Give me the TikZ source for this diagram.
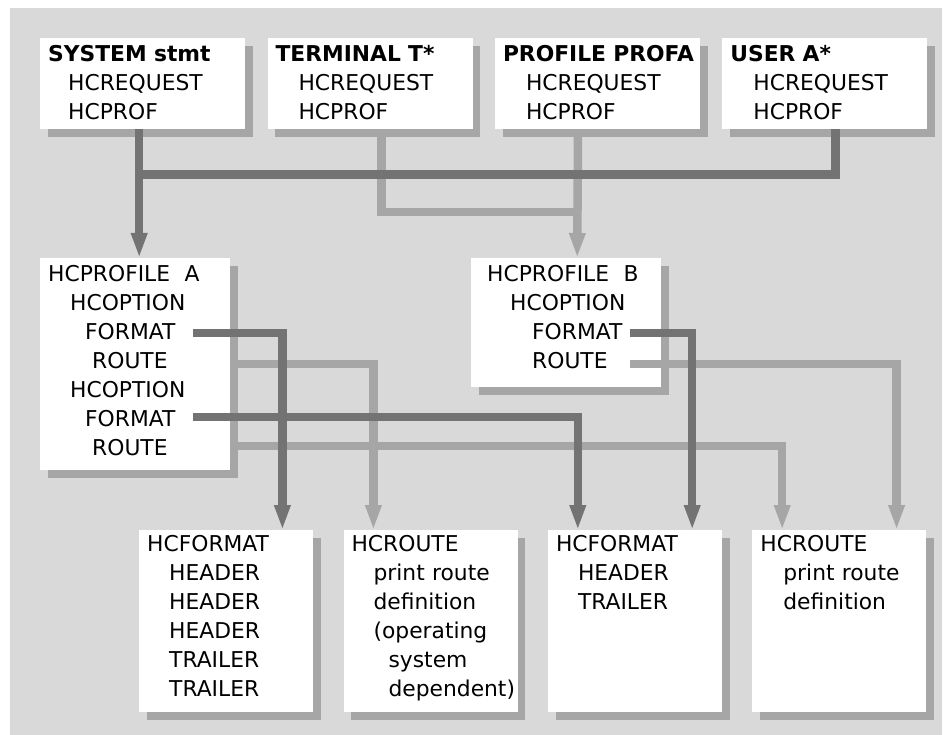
\documentclass[tikz,border=0pt]{standalone}
\usepackage{fontspec}
\setmainfont{DejaVu Sans}
\usetikzlibrary{arrows.meta,positioning,shadows}

\definecolor{panel}{HTML}{D9D9D9}
\definecolor{shade}{HTML}{A6A6A6}
\definecolor{dark}{HTML}{737373}
\newcommand\cardtext[1]{\begin{tabular}[t]{@{}l@{}}#1\end{tabular}}

\begin{document}
\begin{tikzpicture}[
  x=1pt, y=-1pt, >={Triangle[length=25pt,width=15pt]},
  every node/.style={font=\fontsize{21.8}{29}\selectfont},
  card/.style={fill=white, anchor=north west, align=left,
               inner xsep=8pt, inner ysep=0pt,
               general shadow={fill=shade, shadow xshift=7.5pt, shadow yshift=-7.5pt}},
  stmt/.style={card, text width=189pt, text height=23pt, text depth=68pt},
  prfl/.style={card, text width=174pt, text height=23pt, text depth=#1},
  defn/.style={card, text width=158pt, text height=21pt, text depth=161pt},
  dk/.style={draw=dark, line width=8.5pt},
  lt/.style={draw=shade, line width=8.5pt},
]
\useasboundingbox (0,0) rectangle (946,735);
\fill[panel] (10,8) rectangle (942,735);

\node[stmt] (sys) at (40,38)
  {\cardtext{\textbf{SYSTEM stmt}\\ \hspace*{20pt}HCREQUEST\\ \hspace*{20pt}HCPROF}};
\node[stmt, right=22pt of sys] (term)
  {\cardtext{\textbf{TERMINAL T*}\\ \hspace*{23pt}HCREQUEST\\ \hspace*{23pt}HCPROF}};
\node[stmt, right=22pt of term] (prof)
  {\cardtext{\textbf{PROFILE PROFA}\\ \hspace*{23pt}HCREQUEST\\ \hspace*{23pt}HCPROF}};
\node[stmt, right=22pt of prof] (user)
  {\cardtext{\textbf{USER A*}\\ \hspace*{23pt}HCREQUEST\\ \hspace*{23pt}HCPROF}};

\node[prfl=189pt] (profA) at (40,258)
  {\cardtext{HCPROFILE\ \ A\\ \hspace*{22pt}HCOPTION\\ \hspace*{37pt}FORMAT\\
   \hspace*{44pt}ROUTE\\ \hspace*{22pt}HCOPTION\\ \hspace*{37pt}FORMAT\\ \hspace*{44pt}ROUTE}};
\node[prfl=106pt] (profB) at (471,258)
  {\cardtext{\hspace*{8pt}HCPROFILE\ \ B\\ \hspace*{31pt}HCOPTION\\
   \hspace*{53pt}FORMAT\\ \hspace*{53pt}ROUTE}};

\node[defn] (fmt1) at (139,530)
  {\cardtext{HCFORMAT\\ \hspace*{22pt}HEADER\\ \hspace*{22pt}HEADER\\ \hspace*{22pt}HEADER\\
   \hspace*{22pt}TRAILER\\ \hspace*{22pt}TRAILER}};
\node[defn, right=30pt of fmt1] (rte1)
  {\cardtext{HCROUTE\\ \hspace*{22pt}print route\\ \hspace*{22pt}definition\\
   \hspace*{22pt}(operating\\ \hspace*{37pt}system\\ \hspace*{37pt}dependent)}};
\node[defn, right=30pt of rte1] (fmt2)
  {\cardtext{HCFORMAT\\ \hspace*{22pt}HEADER\\ \hspace*{22pt}TRAILER}};
\node[defn, right=30pt of fmt2] (rte2)
  {\cardtext{HCROUTE\\ \hspace*{23pt}print route\\ \hspace*{23pt}definition}};

\coordinate (fmtA1) at (193,333);
\coordinate (rteA1) at (230,364);
\coordinate (fmtA2) at (193,417);
\coordinate (rteA2) at (230,446);
\coordinate (fmtB) at (630,333);
\coordinate (rteB) at (630,364);

\draw[lt] ([xshift=11.5pt]term.south) |- ([xshift=11pt,yshift=46pt]profB.north);
\draw[lt,->] ([xshift=-19.5pt]prof.south) -- ([xshift=11pt]profB.north);
\draw[lt,->] (rteA1) -| ([xshift=30pt]rte1.north west);
\draw[lt,->] (rteA2) -| ([xshift=30pt]rte2.north west);
\draw[lt,->] (rteB) -| ([xshift=-30pt]rte2.north east);

\draw[dk,->] ([xshift=-3.5pt]sys.south) -- ([xshift=4pt]profA.north);
\draw[dk] ([xshift=10.5pt]user.south) |- ([xshift=-3.5pt,yshift=-45pt]sys.south);
\draw[dk,->] (fmtA1) -| ([xshift=-31pt]fmt1.north east);
\draw[dk,->] (fmtA2) -| ([xshift=30pt]fmt2.north west);
\draw[dk,->] (fmtB) -| ([xshift=-30pt]fmt2.north east);
\end{tikzpicture}
\end{document}
